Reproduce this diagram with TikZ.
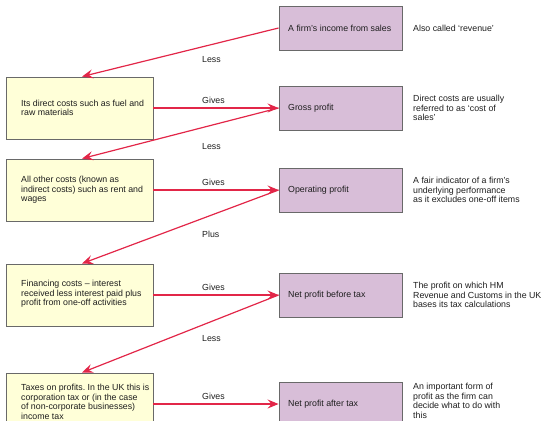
\documentclass[tikz,border=0pt]{standalone}
\usepackage{fontspec}
\setmainfont{Liberation Sans}
\frenchspacing
\usetikzlibrary{arrows.meta}
\definecolor{pfill}{RGB}{216,190,216}
\definecolor{yfill}{RGB}{255,255,216}
\definecolor{bord}{RGB}{105,105,105}
\definecolor{arr}{RGB}{226,38,72}
\definecolor{txt}{RGB}{30,30,30}
\tikzset{
  pbox/.style={draw=bord, line width=0.9bp, fill=pfill, minimum width=123bp, minimum height=44bp, inner sep=0pt},
  ybox/.style={draw=bord, line width=0.9bp, fill=yfill, minimum width=147bp, minimum height=62bp, inner sep=0pt},
  tx/.style={anchor=west, align=left, inner sep=0pt, text=txt, font=\fontsize{8.8bp}{9.6bp}\selectfont},
  conn/.style={draw=arr, line width=1.2bp, -{Stealth[length=11bp,width=9bp,inset=4bp]}}
}
\begin{document}
\begin{tikzpicture}[x=1bp,y=-1bp]
\useasboundingbox (0,0) rectangle (542,420);
\begin{scope}
\clip (0,0) rectangle (542,420);
% purple boxes
\node[pbox] (P1) at (340.5,28) {};
\node[pbox] (P2) at (340.5,108) {};
\node[pbox] (P3) at (340.5,190) {};
\node[pbox] (P4) at (340.5,295) {};
\node[pbox] (P5) at (340.5,404) {};
% yellow boxes
\node[ybox] (Y1) at (79.5,108) {};
\node[ybox] (Y2) at (79.5,190) {};
\node[ybox] (Y4) at (79.5,295) {};
\node[ybox] (Y5) at (79.5,404) {};
% purple texts
\node[tx] (tp1) at (288,28) {A firm's income from sales};
\node[tx] (tp2) at (288,108) {Gross profit};
\node[tx] (tp3) at (288,190) {Operating profit};
\node[tx] (tp4) at (288,295) {Net profit before tax};
\node[tx] (tp5) at (288,404) {Net profit after tax};
% yellow texts
\node[tx] (ty1) at (21,108) {Its direct costs such as fuel and\\raw materials};
\node[tx] (ty2) at (21,190) {All other costs (known as\\indirect costs) such as rent and\\wages};
\node[tx] (ty4) at (21,294) {Financing costs -- interest\\received less interest paid plus\\profit from one-off activities};
\node[tx] (ty5) at (21,402) {Taxes on profits. In the UK this is\\corporation tax or (in the case\\of non-corporate businesses)\\income tax};
% notes
\node[tx] (n1) at (413,28) {Also called `revenue'};
\node[tx] (n2) at (413,108) {Direct costs are usually\\referred to as `cost of\\sales'};
\node[tx] (n3) at (413,190) {A fair indicator of a firm's\\underlying performance\\as it excludes one-off items};
\node[tx] (n4) at (413,295) {The profit on which HM\\Revenue and Customs in the UK\\bases its tax calculations};
\node[tx] (n5) at (413,401) {An important form of\\profit as the firm can\\decide what to do with\\this};
% labels
\node[tx] (l1) at (202,60) {Less};
\node[tx] (g1) at (202,100) {Gives};
\node[tx] (l2) at (202,147) {Less};
\node[tx] (g2) at (202,182) {Gives};
\node[tx] (l3) at (202,234) {Plus};
\node[tx] (g3) at (202,287) {Gives};
\node[tx] (l4) at (202,339) {Less};
\node[tx] (g4) at (202,396) {Gives};
% connectors
\draw[conn] (P1.west) -- ([xshift=2.5bp]Y1.north);
\draw[conn] (Y1.east) -- (P2.west);
\draw[conn] (P2.west) -- ([xshift=2.5bp]Y2.north);
\draw[conn] (Y2.east) -- (P3.west);
\draw[conn] (P3.west) -- ([xshift=2.5bp]Y4.north);
\draw[conn] (Y4.east) -- (P4.west);
\draw[conn] (P4.west) -- ([xshift=2.5bp]Y5.north);
\draw[conn] (Y5.east) -- (P5.west);
\end{scope}
\end{tikzpicture}
\end{document}
